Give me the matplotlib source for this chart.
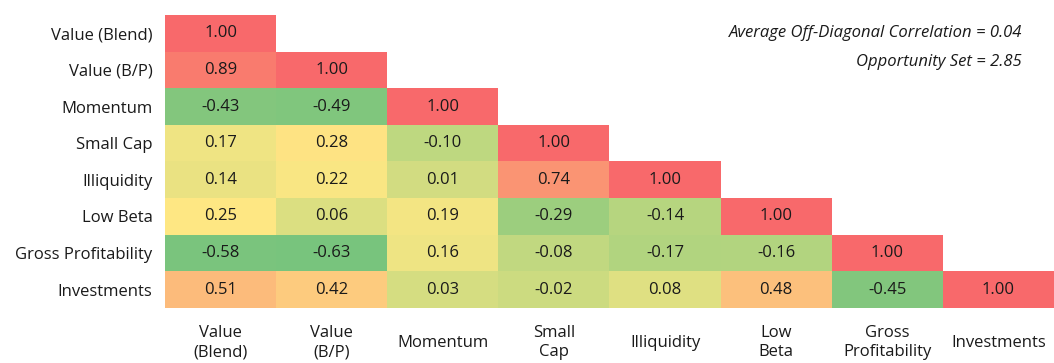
import numpy as np
import matplotlib.pyplot as plt
from matplotlib.colors import LinearSegmentedColormap

plt.rcParams['font.family'] = ['Open Sans', 'DejaVu Sans']

row_labels = ["Value (Blend)", "Value (B/P)", "Momentum", "Small Cap",
              "Illiquidity", "Low Beta", "Gross Profitability", "Investments"]
col_labels = ["Value\n(Blend)", "Value\n(B/P)", "Momentum", "Small\nCap",
              "Illiquidity", "Low\nBeta", "Gross\nProfitability", "Investments"]

# lower triangle of the correlation matrix, row by row
corr_rows = [
    [1.00],
    [0.89, 1.00],
    [-0.43, -0.49, 1.00],
    [0.17, 0.28, -0.10, 1.00],
    [0.14, 0.22, 0.01, 0.74, 1.00],
    [0.25, 0.06, 0.19, -0.29, -0.14, 1.00],
    [-0.58, -0.63, 0.16, -0.08, -0.17, -0.16, 1.00],
    [0.51, 0.42, 0.03, -0.02, 0.08, 0.48, -0.45, 1.00],
]
avg_corr = 0.04
opp_set = 2.85


def build_matrix(rows):
    """
    Puts the triangle rows into a square array, NaN above the diagonal
    """
    n = len(rows)
    m = np.full((n, n), np.nan)
    for i, r in enumerate(rows):
        m[i, :len(r)] = r
    return m


def pos(v, lo, hi):
    return (v - lo) / (hi - lo)


mat = build_matrix(corr_rows)
vmin, vmax = np.nanmin(mat), np.nanmax(mat)
# green -> yellow -> red scale, roughly like the spreadsheet's colour scale
cmap = LinearSegmentedColormap.from_list("excel", [
    (0, "#78C47D"),
    (pos(-0.43, vmin, vmax), "#84C77D"),
    (pos(-0.10, vmin, vmax), "#BED880"),
    (pos(0.25, vmin, vmax), "#FFE884"),
    (1, "#F8696B"),
])
cmap.set_bad("white")

fig = plt.figure(figsize=(10.54, 3.63), dpi=100)
ax = fig.add_axes([165 / 1054, 55 / 363, 889 / 1054, 293 / 363])
ax.imshow(np.ma.masked_invalid(mat), cmap=cmap, vmin=vmin, vmax=vmax,
          aspect="auto", interpolation="nearest")

n = len(row_labels)
for i in range(n):
    for j in range(n):
        if not np.isnan(mat[i, j]):
            ax.text(j, i, "%.2f" % mat[i, j], ha="center", va="center",
                    fontsize=12, color="#1a1a1a")

ax.set_yticks(range(n))
ax.set_yticklabels(row_labels, fontsize=12, color="#1a1a1a")
ax.tick_params(axis="y", length=0, pad=9)
ax.set_xticks([])
for s in ax.spines.values():
    s.set_visible(False)

for j, lab in enumerate(col_labels):
    ax.text(j, 8.45, lab, ha="center", va="center", fontsize=12,
            color="#1a1a1a", linespacing=1.25, clip_on=False)

fig.text(1022 / 1054, 1 - 33 / 363,
         "Average Off-Diagonal Correlation = %.2f" % avg_corr,
         ha="right", va="center", fontsize=12, style="italic", color="#1a1a1a")
fig.text(1022 / 1054, 1 - 62 / 363, "Opportunity Set = %.2f" % opp_set,
         ha="right", va="center", fontsize=12, style="italic", color="#1a1a1a")

fig.savefig("out.png", dpi=100)
